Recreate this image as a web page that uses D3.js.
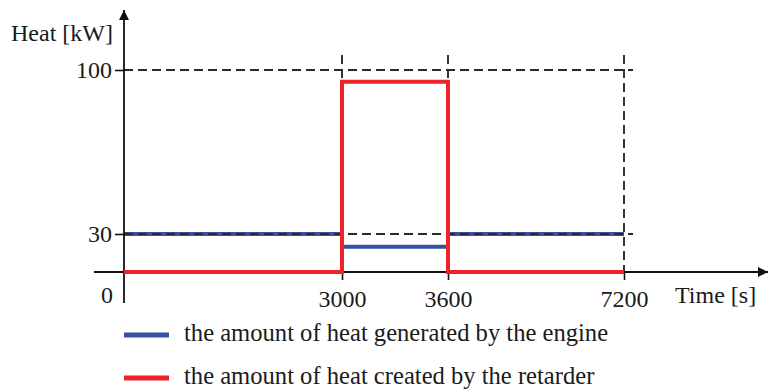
<!DOCTYPE html>
<html>
<head>
<meta charset="utf-8">
<script src="https://cdn.jsdelivr.net/npm/d3@7"></script>
<style>
  html, body { margin: 0; padding: 0; background: #fff; }
  svg { display: block; }
  text { font-family: "Liberation Serif", "Times New Roman", serif; fill: #1a1a1a; }
</style>
</head>
<body>
<svg id="chart" width="774" height="389"></svg>
<script>
// Time breakpoints (s) and heat levels (kW)
const times = [0, 3000, 3600, 7200];
const engineHeat = [30, 20, 30, 30];
const retarderHeat = [0, 95, 0, 0];

const xTicks = [3000, 3600, 7200];
const yTicks = [30, 100];
const guideTimes = [3000, 3600, 7200];
const guideHeats = [30, 100];

const seriesNames = [
  "the amount of heat generated by the engine",
  "the amount of heat created by the retarder"
];
const seriesColors = ["#3651a3", "#ee2228"];

const svg = d3.select("#chart");

// Schematic (piecewise) scales
const x = d3.scaleLinear().domain([0, 3000, 3600, 7200]).range([124, 342, 448, 624]);
const y = d3.scaleLinear().domain([0, 30, 100]).range([272, 234, 70]);

const defs = svg.append("defs");
defs.append("marker")
  .attr("id", "arrow")
  .attr("viewBox", "0 0 10 10")
  .attr("refX", 10).attr("refY", 5)
  .attr("markerWidth", 14).attr("markerHeight", 10)
  .attr("markerUnits", "userSpaceOnUse")
  .attr("orient", "auto")
  .append("path").attr("d", "M0,0L10,5L0,10z").attr("fill", "#111");

const line = d3.line()
  .x(d => x(d[0]))
  .y(d => y(d[1]))
  .curve(d3.curveStepAfter);

// Engine heat (drawn beneath the guides)
svg.append("path")
  .datum(times.map((t, i) => [t, engineHeat[i]]))
  .attr("d", line)
  .attr("fill", "none")
  .attr("stroke", seriesColors[0])
  .attr("stroke-width", 4);

// Dashed guide lines
const guides = svg.append("g")
  .attr("stroke", "#2a2a2a")
  .attr("stroke-width", 1.9)
  .attr("stroke-dasharray", "9,5");
guides.selectAll("line.h").data(guideHeats).join("line")
  .attr("class", "h")
  .attr("x1", x(0)).attr("x2", x(7200) + 9)
  .attr("y1", d => y(d)).attr("y2", d => y(d));
guides.selectAll("line.v").data(guideTimes).join("line")
  .attr("class", "v")
  .attr("x1", d => x(d)).attr("x2", d => x(d))
  .attr("y1", y(100) - 15).attr("y2", y(0));

// Axes lines with arrows
svg.append("line")
  .attr("x1", 94).attr("x2", 768)
  .attr("y1", y(0)).attr("y2", y(0))
  .attr("stroke", "#111").attr("stroke-width", 1.8)
  .attr("marker-end", "url(#arrow)");
svg.append("line")
  .attr("x1", x(0)).attr("x2", x(0))
  .attr("y1", 303).attr("y2", 10)
  .attr("stroke", "#111").attr("stroke-width", 1.8)
  .attr("marker-end", "url(#arrow)");

// Tick marks and labels
const xAxis = svg.append("g")
  .attr("transform", `translate(0,${y(0)})`)
  .call(d3.axisBottom(x).tickValues(xTicks).tickSize(8).tickPadding(10).tickFormat(d3.format("d")));
const yAxis = svg.append("g")
  .attr("transform", `translate(${x(0)},0)`)
  .call(d3.axisLeft(y).tickValues(yTicks).tickSize(9).tickPadding(3).tickFormat(d3.format("d")));
[xAxis, yAxis].forEach(g => {
  g.select(".domain").remove();
  g.selectAll(".tick line").attr("stroke", "#111").attr("stroke-width", 1.6);
  g.selectAll(".tick text")
    .attr("fill", "#1a1a1a")
    .style("font-family", '"Liberation Serif", "Times New Roman", serif')
    .style("font-size", "24px");
});

svg.append("text")
  .attr("x", 113).attr("y", 303)
  .attr("text-anchor", "end")
  .style("font-size", "24px")
  .text("0");

// Retarder heat (on top)
svg.append("path")
  .datum(times.map((t, i) => [t, retarderHeat[i]]))
  .attr("d", line)
  .attr("fill", "none")
  .attr("stroke", seriesColors[1])
  .attr("stroke-width", 4);

// Axis titles
svg.append("text")
  .attr("x", 11).attr("y", 41)
  .style("font-size", "24px")
  .text("Heat [kW]");
svg.append("text")
  .attr("x", 675).attr("y", 303)
  .style("font-size", "24px")
  .text("Time [s]");

// Legend
const legend = svg.append("g").selectAll("g")
  .data(seriesNames)
  .join("g")
  .attr("transform", (d, i) => `translate(124,${335 + i * 43})`);
legend.append("line")
  .attr("x1", 0).attr("x2", 45)
  .attr("stroke", (d, i) => seriesColors[i])
  .attr("stroke-width", 5);
legend.append("text")
  .attr("x", 60).attr("y", 5.5)
  .style("font-size", "24.6px")
  .text(d => d);
</script>
</body>
</html>
